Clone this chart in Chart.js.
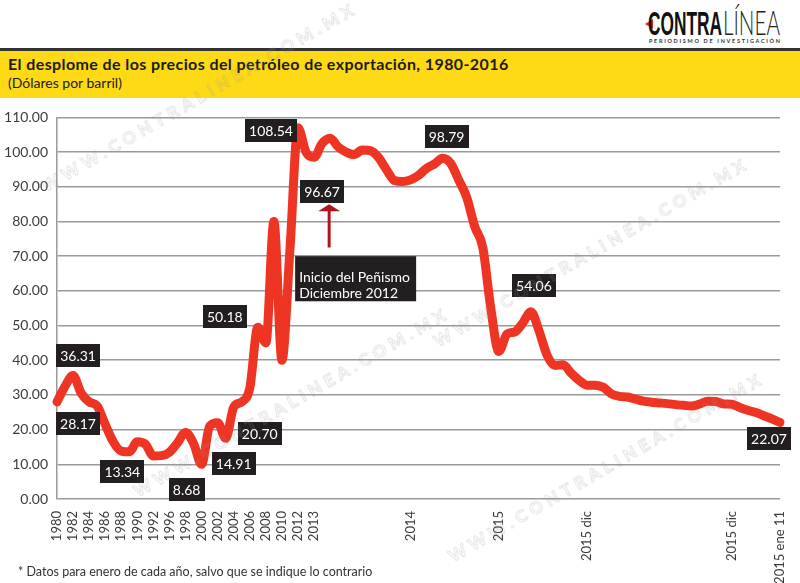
<!DOCTYPE html>
<html>
<head>
<meta charset="utf-8">
<script src="https://cdn.jsdelivr.net/npm/chart.js@4.4.1/dist/chart.umd.min.js"></script>
<style>
  body { margin: 0; width: 800px; height: 583px; background: #fff; position: relative; overflow: hidden; font-family: Lato, "Open Sans", sans-serif; }
  .logo { position: absolute; left: 640px; top: 0; }
  .band { position: absolute; left: 0; top: 48px; width: 800px; height: 47px; background: #fed916; border-top: 3px solid #333; }
  .title { position: absolute; left: 8px; top: 54px; font-size: 16px; letter-spacing: 0.4px; font-weight: 700; color: #1b1b1b; white-space: nowrap; }
  .sub { position: absolute; left: 8px; top: 74px; font-size: 14px; color: #1b1b1b; white-space: nowrap; }
  .note { position: absolute; left: 18px; top: 564px; font-size: 12.5px; color: #333; white-space: nowrap; }
  .wm { position: absolute; font-size: 17px; font-weight: 700; letter-spacing: 5px; color: rgba(255,255,255,0); -webkit-text-stroke: 0.8px rgba(150,150,150,0.33); transform: rotate(-30deg); transform-origin: left bottom; white-space: nowrap; pointer-events: none; }
  #wrap { position: absolute; left: 0; top: 100px; width: 800px; height: 483px; }
</style>
</head>
<body>
<svg class="logo" width="150" height="48" viewBox="0 0 150 48">
  <polygon points="5,24 13,19 13,29" fill="#e2231a"/>
  <text x="8" y="35" font-family="Liberation Sans Narrow, Liberation Sans, sans-serif" font-weight="700" font-size="33" textLength="74" lengthAdjust="spacingAndGlyphs" fill="#111">CONTRA</text>
  <text x="83" y="35" font-family="Lato, sans-serif" font-weight="300" font-size="33" textLength="57" lengthAdjust="spacingAndGlyphs" fill="#222">LÍNEA</text>
  <text x="9" y="43" font-family="Lato, sans-serif" font-weight="700" font-size="5.5" textLength="131" lengthAdjust="spacing" fill="#333">PERIODISMO DE INVESTIGACIÓN</text>
</svg>
<div class="band"></div>
<div class="title">El desplome de los precios del petróleo de exportación, 1980-2016</div>
<div class="sub">(Dólares por barril)</div>
<div id="wrap"><canvas id="oilChart" width="800" height="483"></canvas></div>
<div class="note">* Datos para enero de cada año, salvo que se indique lo contrario</div>
<div class="wm" style="left:48px; top:175px;">WWW.CONTRALINEA.COM.MX</div>
<div class="wm" style="left:140px; top:480px;">WWW.CONTRALINEA.COM.MX</div>
<div class="wm" style="left:440px; top:330px;">WWW.CONTRALINEA.COM.MX</div>
<div class="wm" style="left:455px; top:545px;">WWW.CONTRALINEA.COM.MX</div>

<script>
// price per barrel, one point per step on the axis
const values = [
    28, 32.5, 35.6, 30.5, 28, 26.8, 21.5, 16.5, 13.8, 13.6,
    16.5, 15.8, 12.4, 12.5, 13.5, 16.2, 19.2, 16, 10, 21,
    22, 17.5, 26.5, 28, 32, 49.5, 45, 80, 40, 72,
    107, 100, 98.5, 102.5, 104, 101.5, 100, 99.3, 100.6, 100.4,
    98.5, 95, 91.8, 91.5, 92, 93.3, 95.3, 96.6, 98.2, 96.8,
    92, 87, 78.5, 72.5, 55, 42.5, 47.5, 48.2, 50.8, 54,
    48.5, 41.5, 38.5, 38.7, 36.3, 34.2, 32.8, 32.8, 32.2, 30.3,
    29.6, 29.4, 28.8, 28.2, 27.9, 27.7, 27.5, 27.2, 27, 26.8,
    27.4, 28.2, 28.1, 27.4, 27.3, 26.4, 25.6, 24.9, 24, 23.1,
    22.07
];

const tickLabels = ["1980", "1982", "1984", "1986", "1988", "1990", "1992", "1996", "1998", "2000",
    "2002", "2004", "2006", "2008", "2010", "2012", "2013", "2014", "2015", "2015 dic", "2015 dic", "2015 ene 11"];
const tickIndex = [0, 2, 4, 6, 8, 10, 12, 14, 16, 18, 20, 22, 24, 26, 28, 30, 32, 44, 55, 66, 84, 90];

const categories = values.map(() => "");
tickIndex.forEach((idx, k) => { categories[idx] = tickLabels[k]; });

// black value tags
const calloutText = ["28.17", "36.31", "13.34", "8.68", "14.91", "20.70", "50.18", "108.54", "96.67", "98.79", "54.06", "22.07"];
const calloutIndex = [0, 2, 9, 18, 21, 23, 25, 30, 32, 48, 59, 90];

const noteLines = ["Inicio del Peñismo", "Diciembre 2012"];
const noteIndex = 34;

// label offsets from their point (px)
const calloutShift = [[21, 22], [5, -20], [-7, 20], [-15, 25], [8, 25], [18, 32], [-33, -11], [-27, 3], [8, 34], [4, -22], [3, -26], [-11, 16]];

const tagPlugin = {
    id: "tags",
    afterDatasetsDraw(chart) {
        const c = chart.ctx;
        const xs = chart.scales.x;
        const ys = chart.scales.y;
        c.save();
        c.font = "14px Lato";
        c.textAlign = "center";
        c.textBaseline = "middle";
        calloutText.forEach((t, k) => {
            const i = calloutIndex[k];
            const cx = xs.getPixelForValue(i) + calloutShift[k][0];
            const cy = ys.getPixelForValue(values[i]) + calloutShift[k][1];
            const w = c.measureText(t).width + 8;
            const h = 23;
            c.fillStyle = "#231f20";
            c.fillRect(Math.round(cx - w / 2), Math.round(cy - h / 2), Math.round(w), h);
            c.fillStyle = "#fff";
            c.fillText(t, cx, cy + 1);
        });

        // arrow + note box
        const ax = xs.getPixelForValue(noteIndex) - 1;
        const top = ys.getPixelForValue(85);
        const bot = ys.getPixelForValue(72.5);
        c.strokeStyle = "#b3141c";
        c.fillStyle = "#b3141c";
        c.lineWidth = 3;
        c.beginPath();
        c.moveTo(ax, bot);
        c.lineTo(ax, top + 6);
        c.stroke();
        c.beginPath();
        c.moveTo(ax - 11, top + 7);
        c.lineTo(ax + 11, top + 7);
        c.lineTo(ax, top);
        c.closePath();
        c.fill();

        const bx = ax - 34;
        const by = ys.getPixelForValue(70);
        const bh = ys.getPixelForValue(57) - by;
        c.fillStyle = "#231f20";
        c.fillRect(bx, by, 121, bh);
        c.fillStyle = "#fff";
        c.font = "14px Lato";
        c.textAlign = "left";
        c.fillText(noteLines[0], bx + 4, by + 21);
        c.fillText(noteLines[1], bx + 4, by + 37);
        c.restore();
    }
};

const ctx = document.getElementById("oilChart").getContext("2d");

new Chart(ctx, {
    type: "line",
    data: {
        labels: categories,
        datasets: [{
            data: values,
            borderColor: "#ee3524",
            borderWidth: 9,
            borderCapStyle: "round",
            borderJoinStyle: "round",
            pointRadius: 0,
            cubicInterpolationMode: "monotone",
            clip: false,
            fill: false
        }]
    },
    options: {
        responsive: false,
        animation: false,
        layout: { padding: { top: 16, right: 20, left: 0, bottom: 0 } },
        plugins: {
            legend: { display: false },
            tooltip: { enabled: false }
        },
        scales: {
            x: {
                afterFit: s => { s.height = 84; },
                grid: { display: false },
                border: { display: false },
                ticks: {
                    autoSkip: false,
                    maxRotation: 90,
                    minRotation: 90,
                    padding: 4,
                    color: "#3c3c3c",
                    font: { family: "Lato", size: 13 }
                }
            },
            y: {
                min: 0,
                max: 110,
                afterFit: s => { s.width = 57; },
                border: { display: true, color: "#9a9a9a", width: 1.5 },
                grid: { color: "#9a9a9a", lineWidth: 1.5, drawTicks: false },
                ticks: {
                    stepSize: 10,
                    padding: 9,
                    color: "#3c3c3c",
                    font: { family: "Lato", size: 14 },
                    callback: v => v.toFixed(2)
                }
            }
        }
    },
    plugins: [tagPlugin]
});
</script>
</body>
</html>
